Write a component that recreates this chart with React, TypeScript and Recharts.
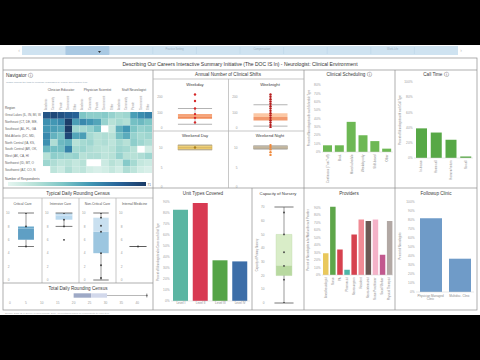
import React from 'react';
import { BarChart, Bar, XAxis, YAxis, Cell, ScatterChart, Scatter, ReferenceArea, ReferenceLine } from 'recharts';

const FONT = '"Liberation Sans", Arial, Helvetica, sans-serif';
const TICK = '#9b9b9b';
const BORDER = '#8c8c8c';
const TITLE = '#3a3a3a';

// ---------- Navigator heat map ----------
const heatGroups = ['Clinician Educator', 'Physician Scientist', 'Staff Neurologist'];
const heatSubcols = ['Academic', 'Community', 'Private', 'Government', 'Other'];
const regionNames = [
  'Great Lakes (IL, IN, MI, W',
  'Northeast (CT, DE, ME,',
  'Southeast (AL, FL, GA',
  'Mid-Atlantic (DC, MD,',
  'North Central (IA, KS,',
  'South Central (AR, OK,',
  'West (AK, CA, HI',
  'Northwest (ID, MT, O',
  'Southwest (AZ, CO, N',
];
const heatValues = [
  [62, 66, 63, 60, 58, 28, 24, 24, 26, 22, 18, 20, 40, 45, 48],
  [44, 42, 46, 70, 40, 46, 42, 38, 22, 14, 18, 15, 30, 32, 28],
  [42, 40, 38, 71, 20, 18, 22, 30, 0, 10, 35, 42, 28, 22, 24],
  [46, 34, 30, 66, 38, 40, 18, 14, 16, 14, 30, 36, 22, 18, 20],
  [44, 16, 32, 34, 14, 18, 20, 14, 16, 12, 18, 14, 24, 20, 16],
  [32, 30, 30, 48, 18, 20, 16, 14, 12, 14, 20, 18, 14, 0, 6],
  [14, 24, 22, 20, 22, 14, 16, 16, 12, 14, 22, 14, 14, 16, 20],
  [20, 16, 12, 14, 10, 14, 0, 0, 8, 14, 10, 26, 18, 10, 8],
  [0, 12, 8, 16, 10, 12, 6, 4, 6, 10, 6, 16, 12, 6, 4],
];
const heatMax = 71;

// ---------- Annual number of clinical shifts ----------
const shiftPanels = ['Weekday', 'Weeknight', 'Weekend Day', 'Weekend Night'];
const shiftMin = [24, 12, 9.5, 9.7];
const shiftQ1 = [60, 48, 9.5, 9.7];
const shiftMedian = [75, 70, 10.1, 10.1];
const shiftQ3 = [89, 95, 10.7, 10.5];
const shiftMax = [125, 149, 10.7, 10.5];
const shiftPoints = [
  [215, 173, 125, 89, 65, 36],
  [215, 200, 185, 170, 155, 140, 125, 110, 95, 80, 65, 50, 35, 20, 5],
  [10.1],
  [10.7, 10.2, 9.6, 8.9, 8.2],
];
const shiftTicksWeekday = [0, 100, 200];
const shiftTicksWeekend = [0, 5, 10];

// ---------- Clinical scheduling ----------
const schedulingCategories = ['Continuous (7 on/7 off)', 'Block', 'Mixed schedule', 'Weekday only', 'Shift-based', 'Other'];
const schedulingValues = [8, 8, 36, 20, 13, 4];
const schedulingTicks = [0, 10, 20, 30, 40, 50, 60, 70, 80];

// ---------- Call time ----------
const callCategories = ['In-house', 'Home call', 'Home w/ return', 'No call'];
const callValues = [39, 33.5, 24, 2];
const callTicks = [0, 20, 40, 60, 80, 100];

// ---------- Typical daily rounding census ----------
const censusUnits = ['Critical Care', 'Intensive Care', 'Non-Critical Care', 'Internal Medicine'];
const censusMin = [5, 8, 0, 5];
const censusQ1 = [6, 9, 4, 5];
const censusMedian = [7.7, 9.6, 7.2, 5];
const censusQ3 = [8, 10, 9.3, 5];
const censusMax = [10, 10, 10, 5];
const censusPoints = [[10, 8, 5], [10, 9, 8, 6], [10, 9.3, 8.1, 7.2, 4, 2.2, 0.3], [5]];
const censusTicks = [0, 2, 4, 6, 8, 10];

// ---------- Total daily rounding census ----------
const totalStats = [20, 20, 25.5, 30.5, 43];
const totalPoints = [43];
const totalTicks = [0, 5, 10, 15, 20, 25, 30, 35, 40];

// ---------- Unit types covered ----------
const unitCategories = ['Level I', 'Level II', 'Level III', 'Level IV'];
const unitValues = [83, 89, 37, 36];
const unitTicks = [0, 10, 20, 30, 40, 50, 60, 70, 80, 90];

// ---------- Capacity of nursery ----------
const capacityStats = [0, 20, 27, 50, 70];
const capacityPoints = [66, 50, 37, 27, 17, 0];
const capacityTicks = [0, 10, 20, 30, 40, 50, 60, 70];

// ---------- Providers ----------
const providerCategories = ['Anesthesiologist', 'Nurse', 'PA', 'Pharmacist', 'Neurosurgeon', 'Resident', 'Neuro-intensivist', 'Nurse Practitioner', 'Social Worker', 'Physical Therapist'];
const providerValues = [29, 91, 34, 7, 54, 74, 72, 74, 27, 72];
const providerTicks = [0, 10, 20, 30, 40, 50, 60, 70, 80, 90];

// ---------- Followup clinic ----------
const followupCategories = ['Physician Managed Clinic', 'Multidisc. Clinic'];
const followupValues = [82, 37];
const followupTicks = [0, 10, 20, 30, 40, 50, 60, 70, 80, 90, 100];

// ---------- Navigation tabs ----------
const navTabs = ['', '', '', 'Practice Setting', '', 'Compensation', '', '', 'Work-Life', ''];

// ================= styling helpers =================
const HEAT_STOPS: [number, string][] = [
  [0, '#e5f5f0'], [0.2, '#b6e1d7'], [0.4, '#7cc5c6'], [0.6, '#3f95b3'], [0.8, '#276399'], [1, '#1b3a66'],
];
function hexToRgb(h: string) {
  return [parseInt(h.slice(1, 3), 16), parseInt(h.slice(3, 5), 16), parseInt(h.slice(5, 7), 16)];
}
function heatColor(v: number) {
  if (!v) return '#ffffff';
  const t = Math.min(1, v / heatMax);
  for (let i = 1; i < HEAT_STOPS.length; i++) {
    if (t <= HEAT_STOPS[i][0]) {
      const [t0, c0] = HEAT_STOPS[i - 1];
      const [t1, c1] = HEAT_STOPS[i];
      const f = (t - t0) / (t1 - t0);
      const a = hexToRgb(c0), b = hexToRgb(c1);
      const m = a.map((x, k) => Math.round(x + (b[k] - x) * f));
      return `rgb(${m[0]},${m[1]},${m[2]})`;
    }
  }
  return HEAT_STOPS[HEAT_STOPS.length - 1][1];
}

const pct = (v: number) => `${v}%`;
const tickStyle = { fontSize: 3.2, fill: TICK };

function RotTick(props: any) {
  const { x, y, payload } = props;
  const yy = y + 1.5;
  return (
    <text x={x} y={yy} transform={`rotate(-90, ${x}, ${yy})`} textAnchor="end" dominantBaseline="central" fontSize={2.8} fill="#8a8a8a">
      {payload.value}
    </text>
  );
}

function WrapTick(props: any) {
  const { x, y, payload } = props;
  const words = String(payload.value).split(' ');
  const lines: string[] = [];
  let cur = '';
  words.forEach((w) => {
    if ((cur + ' ' + w).trim().length > 18) { lines.push(cur.trim()); cur = w; } else cur = (cur + ' ' + w).trim();
  });
  if (cur) lines.push(cur);
  return (
    <text x={x} y={y + 3.5} textAnchor="middle" fontSize={3} fill="#8a8a8a">
      {lines.map((l, i) => <tspan key={i} x={x} dy={i === 0 ? 0 : 3.6}>{l}</tspan>)}
    </text>
  );
}

function Tx({ x, y, s = 4, fill = TITLE, anchor = 'middle', children }: any) {
  return <text x={x} y={y} fontSize={s} fill={fill} textAnchor={anchor} fontFamily={FONT}>{children}</text>;
}
function VTx({ x, y, s = 2.6, fill = '#8a8a8a', children }: any) {
  return <text x={x} y={y} fontSize={s} fill={fill} textAnchor="middle" dominantBaseline="central" transform={`rotate(-90 ${x} ${y})`} fontFamily={FONT}>{children}</text>;
}
function Ln({ x1, y1, x2, y2, c = BORDER, w = 0.7 }: any) {
  return <line x1={x1} y1={y1} x2={x2} y2={y2} stroke={c} strokeWidth={w} />;
}

type BoxProps = {
  left: number; top: number; width: number; height: number;
  margin: { top: number; right: number; bottom: number; left: number };
  yAxisWidth: number; domain: [number, number]; ticks: number[];
  stats: number[]; points: number[];
  boxHalf: number; capHalf: number;
  lowerFill: string; upperFill: string; boxStroke?: string;
  whisker: string; dot: string; dotR?: number; tickFmt?: (v: number) => string;
};

function BoxPlot(p: BoxProps) {
  const [mn, q1, med, q3, mx] = p.stats;
  const pts = p.points.map((v) => ({ x: 1, y: v }));
  return (
    <div style={{ position: 'absolute', left: p.left, top: p.top }}>
      <ScatterChart width={p.width} height={p.height} margin={p.margin}>
        <XAxis type="number" dataKey="x" domain={[0, 2]} hide />
        <YAxis type="number" dataKey="y" domain={p.domain} ticks={p.ticks} width={p.yAxisWidth}
          tick={tickStyle} tickLine={false} tickSize={0} axisLine={false} tickMargin={1.5} interval={0}
          tickFormatter={p.tickFmt} allowDataOverflow />
        <ReferenceArea x1={1 - p.boxHalf} x2={1 + p.boxHalf} y1={q1} y2={med} fill={p.lowerFill} fillOpacity={1}
          stroke={p.boxStroke || 'none'} strokeWidth={0.4} />
        <ReferenceArea x1={1 - p.boxHalf} x2={1 + p.boxHalf} y1={med} y2={q3} fill={p.upperFill} fillOpacity={1}
          stroke={p.boxStroke || 'none'} strokeWidth={0.4} />
        <ReferenceLine segment={[{ x: 1, y: mn }, { x: 1, y: q1 }]} stroke={p.whisker} strokeWidth={0.6} />
        <ReferenceLine segment={[{ x: 1, y: q3 }, { x: 1, y: mx }]} stroke={p.whisker} strokeWidth={0.6} />
        <ReferenceLine segment={[{ x: 1 - p.capHalf, y: mn }, { x: 1 + p.capHalf, y: mn }]} stroke={p.whisker} strokeWidth={0.8} />
        <ReferenceLine segment={[{ x: 1 - p.capHalf, y: mx }, { x: 1 + p.capHalf, y: mx }]} stroke={p.whisker} strokeWidth={0.8} />
        <Scatter data={pts} isAnimationActive={false}
          shape={(s: any) => <circle cx={s.cx} cy={s.cy} r={p.dotR || 1.1} fill={p.dot} />} />
      </ScatterChart>
    </div>
  );
}

function HeatMap() {
  const cells: { x: number; y: number; v: number }[] = [];
  heatValues.forEach((row, r) => row.forEach((v, c) => cells.push({ x: c, y: r, v })));
  const colLabels = heatGroups.flatMap(() => heatSubcols);
  return (
    <div style={{ position: 'absolute', left: 3, top: 88 }}>
      <ScatterChart width={150} height={86} margin={{ top: 0, right: 1, bottom: 1, left: 0 }}>
        <XAxis type="number" dataKey="x" orientation="top" domain={[-0.5, 14.5]} ticks={colLabels.map((_, i) => i)}
          height={24} interval={0} tickLine={false} tickSize={0} axisLine={false}
          tick={(t: any) => (
            <text x={t.x} y={22} transform={`rotate(-90, ${t.x}, 22)`} textAnchor="start" dominantBaseline="central" fontSize={2.6} fill="#999">
              {colLabels[t.payload.value]}
            </text>
          )} />
        <YAxis type="number" dataKey="y" reversed domain={[-0.5, 8.5]} ticks={regionNames.map((_, i) => i)}
          width={40} interval={0} tickLine={false} tickSize={0} axisLine={false}
          tick={(t: any) => (
            <text x={2} y={t.y} textAnchor="start" dominantBaseline="central" fontSize={3.1} fill="#666">
              {regionNames[t.payload.value]}
            </text>
          )} />
        {cells.map((c, i) => (
          <ReferenceArea key={i} x1={c.x - 0.5} x2={c.x + 0.5} y1={c.y - 0.5} y2={c.y + 0.5}
            fill={heatColor(c.v)} fillOpacity={1} stroke="none" />
        ))}
        <Scatter data={cells} fill="transparent" isAnimationActive={false} shape={(s: any) => <circle cx={s.cx} cy={s.cy} r={0} fill="none" />} />
      </ScatterChart>
    </div>
  );
}

function PctBars({ left, top, width, height, margin, yAxisWidth, xAxisHeight, categories, values, colors, domain, ticks, barSize, tick }: any) {
  const data = categories.map((c: string, i: number) => ({ name: c, value: values[i] }));
  return (
    <div style={{ position: 'absolute', left, top }}>
      <BarChart width={width} height={height} data={data} margin={margin} barCategoryGap={0}>
        <XAxis dataKey="name" interval={0} height={xAxisHeight} tickLine={false} tickSize={0} tickMargin={1}
          axisLine={{ stroke: '#d0d0d0', strokeWidth: 0.5 }} tick={tick} />
        <YAxis type="number" domain={domain} ticks={ticks} width={yAxisWidth} tick={tickStyle} tickLine={false} tickSize={0}
          axisLine={false} tickMargin={1.5} interval={0} tickFormatter={pct} />
        <Bar dataKey="value" barSize={barSize} isAnimationActive={false}>
          {data.map((_: any, i: number) => <Cell key={i} fill={Array.isArray(colors) ? colors[i % colors.length] : colors} />)}
        </Bar>
      </BarChart>
    </div>
  );
}

export default function App() {
  const tabW = 43.6;
  const shiftLayout = [
    { left: 154, top: 86, width: 74, height: 43, half: 0.55 },
    { left: 229, top: 86, width: 75, height: 43, half: 0.54 },
    { left: 154, top: 138, width: 74, height: 50, half: 0.55 },
    { left: 229, top: 138, width: 75, height: 50, half: 0.54 },
  ];
  const shiftStyle = [
    { lower: '#f08c5a', upper: '#f5a47a', stroke: 'none', whisker: '#a0a0a0', dot: '#d62728' },
    { lower: '#f29a6e', upper: '#fbc7a4', stroke: 'none', whisker: '#a0a0a0', dot: '#b71c1c' },
    { lower: '#ebc86a', upper: '#f0d27c', stroke: '#c4a03c', whisker: '#a0a0a0', dot: '#a8801c' },
    { lower: '#c9bb9c', upper: '#d6cab0', stroke: '#a89a7c', whisker: '#a0a0a0', dot: '#f08a3c' },
  ];
  const censusLayout = [
    { left: 3, width: 39, half: 0.53 },
    { left: 42, width: 37, half: 0.6 },
    { left: 79, width: 37, half: 0.55 },
    { left: 116, width: 37, half: 0.6 },
  ];
  const censusStyle = [
    { lower: '#5f9fc4', upper: '#6aa9cc', whisker: '#555' },
    { lower: '#b9d9ef', upper: '#c3def1', whisker: '#555' },
    { lower: '#9cc6e0', upper: '#c9e0f0', whisker: '#555' },
    { lower: '#9cc6e0', upper: '#c9e0f0', whisker: '#555' },
  ];

  return (
    <div style={{ position: 'absolute', left: 0, top: 0, width: 480, height: 360, background: '#000', overflow: 'hidden', fontFamily: FONT }}>
      <svg width={480} height={360} style={{ position: 'absolute', left: 0, top: 0 }}>
        <rect x={0} y={0} width={480} height={360} fill="#000" />
        <rect x={0} y={45} width={480} height={270} fill="#fff" />
        {/* navigation bar */}
        <rect x={22} y={46} width={436} height={9} fill="#cfe3f1" />
        <rect x={22 + tabW} y={46} width={tabW} height={9} fill="#a9c9e3" />
        {navTabs.map((t, i) => (
          <g key={i}>
            {i > 0 && <Ln x1={22 + i * tabW} y1={47} x2={22 + i * tabW} y2={54} c="#b7d1e6" w={0.5} />}
            {t && <Tx x={22 + i * tabW + tabW / 2} y={49.5} s={2.6} fill="#9fb2c2">{t}</Tx>}
          </g>
        ))}
        <path d="M98,51 L101,51 L99.5,53 Z" fill="#333" />
        <Tx x={19} y={52} s={5} fill="#bbb">‹</Tx>
        <Tx x={461} y={52} s={5} fill="#bbb">›</Tx>

        {/* frame */}
        <rect x={3} y={58} width={474} height={252} fill="none" stroke={BORDER} strokeWidth={0.7} />
        <Ln x1={3} y1={70} x2={477} y2={70} />
        <Ln x1={153} y1={70} x2={153} y2={310} />
        <Ln x1={304} y1={70} x2={304} y2={310} />
        <Ln x1={395} y1={70} x2={395} y2={310} />
        <Ln x1={3} y1={188} x2={477} y2={188} />
        <Ln x1={153} y1={79} x2={304} y2={79} c="#b0b0b0" />
        <Ln x1={228.5} y1={79} x2={228.5} y2={188} c="#b0b0b0" />
        <Ln x1={153} y1={131} x2={304} y2={131} c="#b0b0b0" />
        <Ln x1={3} y1={198} x2={153} y2={198} c="#b0b0b0" />
        <Ln x1={42} y1={198} x2={42} y2={283} c="#b0b0b0" />
        <Ln x1={79} y1={198} x2={79} y2={283} c="#b0b0b0" />
        <Ln x1={116} y1={198} x2={116} y2={283} c="#b0b0b0" />
        <Ln x1={3} y1={283} x2={153} y2={283} />
        <Ln x1={252} y1={188} x2={252} y2={310} />

        {/* titles */}
        <Tx x={240} y={66} s={5} fill="#333">Describing Our Careers Interactive Summary Initiative (The DOC IS In) - Neurologist: Clinical Environment</Tx>
        <Tx x={6} y={77} s={4.8} anchor="start">Navigator ⓘ</Tx>
        <Tx x={6} y={82.5} s={2.5} anchor="start" fill="#8fa3b3">Toggle among the tabs to compare responses by region and practice type</Tx>
        {heatGroups.map((g, i) => <Tx key={g} x={61 + i * 36.5} y={91} s={3.3} fill="#555">{g}</Tx>)}
        <Tx x={5} y={109} s={3.2} anchor="start" fill="#555">Region</Tx>
        <Tx x={5} y={179.5} s={3.2} anchor="start" fill="#555">Number of Respondents</Tx>
        <defs>
          <linearGradient id="heatGrad" x1="0" x2="1" y1="0" y2="0">
            {HEAT_STOPS.map(([o, c]) => <stop key={o} offset={o} stopColor={c} />)}
          </linearGradient>
        </defs>
        <rect x={8} y={182} width={138} height={4} fill="url(#heatGrad)" />
        <Tx x={147.5} y={185.5} s={3} anchor="start" fill="#555">{heatMax}</Tx>

        <Tx x={228} y={76} s={4.6}>Annual Number of Clinical Shifts</Tx>
        <Tx x={195} y={85.5} s={4.2}>{shiftPanels[0]}</Tx>
        <Tx x={270} y={85.5} s={4.2}>{shiftPanels[1]}</Tx>
        <Tx x={195} y={137} s={4.2}>{shiftPanels[2]}</Tx>
        <Tx x={270} y={137} s={4.2}>{shiftPanels[3]}</Tx>

        <Tx x={349} y={76} s={4.6}>Clinical Scheduling ⓘ</Tx>
        <Tx x={436} y={76} s={4.6}>Call Time ⓘ</Tx>
        <VTx x={309.5} y={118}>Percent of Neurologists with each Schedule Type</VTx>
        <VTx x={400.5} y={120}>Percent of Neurologists with each Call Type</VTx>

        <Tx x={78} y={195} s={4.6}>Typical Daily Rounding Census</Tx>
        {censusUnits.map((u, i) => (
          <Tx key={u} x={censusLayout[i].left + censusLayout[i].width / 2} y={205} s={3.3} fill="#555">{u}</Tx>
        ))}
        <Tx x={78} y={289.5} s={4.6}>Total Daily Rounding Census</Tx>

        <Tx x={203} y={195} s={4.6}>Unit Types Covered</Tx>
        <Tx x={278} y={195} s={4.2}>Capacity of Nursery</Tx>
        <Tx x={349} y={195} s={4.6}>Providers</Tx>
        <Tx x={436} y={195} s={4.6}>Followup Clinic</Tx>
        <VTx x={158.5} y={252}>Percent of Neurologists who Cover each Unit Type</VTx>
        <VTx x={257.5} y={255}>Capacity of Primary Nursery</VTx>
        <VTx x={308.5} y={240}>Percent of Neurologists who Work with each Provider</VTx>
        <VTx x={400.5} y={246}>Percent of Neurologists</VTx>

        <Tx x={5} y={313.5} s={2.4} anchor="start" fill="#aaa">Source: DOC IS In Survey of Neurologists, 2019. Percentages based on respondents to each item.</Tx>
      </svg>

      <HeatMap />

      {shiftPanels.map((name, i) => (
        <BoxPlot key={name}
          left={shiftLayout[i].left} top={shiftLayout[i].top} width={shiftLayout[i].width} height={shiftLayout[i].height}
          margin={{ top: i < 2 ? 3 : 2, right: 2, bottom: 1, left: 0 }}
          yAxisWidth={10} domain={i < 2 ? [0, 250] : [0, 12]} ticks={i < 2 ? shiftTicksWeekday : shiftTicksWeekend}
          stats={[shiftMin[i], shiftQ1[i], shiftMedian[i], shiftQ3[i], shiftMax[i]]} points={shiftPoints[i]}
          boxHalf={shiftLayout[i].half} capHalf={shiftLayout[i].half}
          lowerFill={shiftStyle[i].lower} upperFill={shiftStyle[i].upper} boxStroke={shiftStyle[i].stroke}
          whisker={shiftStyle[i].whisker} dot={shiftStyle[i].dot} dotR={1.2} />
      ))}

      <PctBars left={305} top={79} width={90} height={105} margin={{ top: 6, right: 2, bottom: 0, left: 0 }}
        yAxisWidth={17} xAxisHeight={32} categories={schedulingCategories} values={schedulingValues}
        colors="#6db854" domain={[0, 80]} ticks={schedulingTicks} barSize={9} tick={(t: any) => <RotTick {...t} />} />

      <PctBars left={397} top={79} width={80} height={105} margin={{ top: 3, right: 4, bottom: 0, left: 0 }}
        yAxisWidth={17} xAxisHeight={26} categories={callCategories} values={callValues}
        colors="#57a846" domain={[0, 100]} ticks={callTicks} barSize={11} tick={(t: any) => <RotTick {...t} />} />

      {censusUnits.map((u, i) => (
        <BoxPlot key={u}
          left={censusLayout[i].left} top={207} width={censusLayout[i].width} height={76}
          margin={{ top: 6, right: 1, bottom: 3, left: 0 }}
          yAxisWidth={8} domain={[0, 10]} ticks={censusTicks}
          stats={[censusMin[i], censusQ1[i], censusMedian[i], censusQ3[i], censusMax[i]]} points={censusPoints[i]}
          boxHalf={censusLayout[i].half} capHalf={censusLayout[i].half}
          lowerFill={censusStyle[i].lower} upperFill={censusStyle[i].upper}
          whisker={censusStyle[i].whisker} dot="#333" dotR={0.9} />
      ))}

      <div style={{ position: 'absolute', left: 3, top: 288 }}>
        <ScatterChart width={150} height={20} margin={{ top: 2, right: 3, bottom: 0, left: 7 }}>
          <XAxis type="number" dataKey="x" domain={[0, 44]} ticks={totalTicks} height={7} tick={tickStyle}
            tickLine={false} tickSize={0} axisLine={false} tickMargin={1} interval={0} />
          <YAxis type="number" dataKey="y" domain={[0, 2]} hide />
          <ReferenceArea x1={totalStats[1]} x2={totalStats[2]} y1={0.6} y2={1.4} fill="#9ea9c6" fillOpacity={1} />
          <ReferenceArea x1={totalStats[2]} x2={totalStats[3]} y1={0.6} y2={1.4} fill="#d2d8eb" fillOpacity={1} />
          <ReferenceLine segment={[{ x: totalStats[3], y: 1 }, { x: totalStats[4], y: 1 }]} stroke="#888" strokeWidth={0.6} />
          <ReferenceLine segment={[{ x: totalStats[4], y: 0.6 }, { x: totalStats[4], y: 1.4 }]} stroke="#888" strokeWidth={0.6} />
          <Scatter data={totalPoints.map((v) => ({ x: v, y: 1 }))} isAnimationActive={false}
            shape={(s: any) => <circle cx={s.cx} cy={s.cy} r={0.9} fill="#666" />} />
        </ScatterChart>
      </div>

      <PctBars left={155} top={188} width={97} height={122} margin={{ top: 14, right: 2, bottom: 0, left: 0 }}
        yAxisWidth={16} xAxisHeight={9} categories={unitCategories} values={unitValues}
        colors={['#5bb5a2', '#d83a52', '#55a447', '#3d6ea8']} domain={[0, 90]} ticks={unitTicks} barSize={15}
        tick={{ fontSize: 3, fill: '#8a8a8a' }} />

      <BoxPlot left={254} top={188} width={50} height={122} margin={{ top: 19, right: 2, bottom: 7, left: 0 }}
        yAxisWidth={12} domain={[0, 70]} ticks={capacityTicks} stats={capacityStats} points={capacityPoints}
        boxHalf={0.44} capHalf={0.53} lowerFill="#b8d9a0" upperFill="#d9edc8" boxStroke="#b8d6a2"
        whisker="#555" dot="#444" dotR={0.9} />

      <PctBars left={305} top={188} width={90} height={122} margin={{ top: 12, right: 2, bottom: 0, left: 0 }}
        yAxisWidth={17} xAxisHeight={35} categories={providerCategories} values={providerValues}
        colors={['#e9c85c', '#5ea64a', '#d6424f', '#4db6a8', '#d6424f', '#f08b95', '#6b5954', '#f4b2c8', '#c2588e', '#b2a8a4']}
        domain={[0, 100]} ticks={providerTicks} barSize={5.5} tick={(t: any) => <RotTick {...t} />} />

      <PctBars left={397} top={188} width={80} height={122} margin={{ top: 14, right: 3, bottom: 0, left: 0 }}
        yAxisWidth={19} xAxisHeight={18} categories={followupCategories} values={followupValues}
        colors="#6f9bc8" domain={[0, 100]} ticks={followupTicks} barSize={22} tick={(t: any) => <WrapTick {...t} />} />
    </div>
  );
}
